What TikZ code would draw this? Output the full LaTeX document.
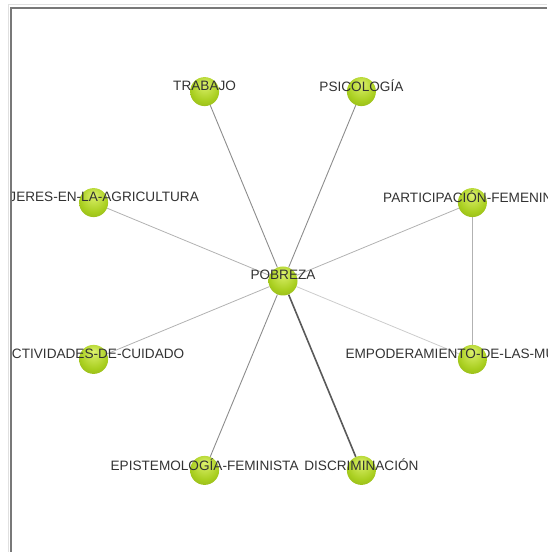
\documentclass[tikz,border=0pt]{standalone}
\usepackage{fontspec}
\setmainfont{Liberation Sans}
\usetikzlibrary{positioning,calc,backgrounds}

\definecolor{ballgreen}{RGB}{168,206,30}
\definecolor{ballgleam}{RGB}{222,242,112}
\definecolor{balledge}{RGB}{104,138,10}
\definecolor{labelgray}{RGB}{50,50,50}
\definecolor{framegray}{RGB}{120,120,120}
\pgfdeclareradialshading{greenball}{\pgfpoint{0bp}{14bp}}{%
  color(0bp)=(ballgleam); color(9bp)=(ballgleam!60!ballgreen);
  color(24bp)=(ballgreen); color(40bp)=(ballgreen!82!black);
  color(50bp)=(balledge)}

\begin{document}
\begin{tikzpicture}[x=1pt, y=1pt,
    ball/.style={circle, shading=greenball, draw=none, minimum size=29pt, inner sep=0pt},
    lbl/.style={text=labelgray, font=\fontsize{13.6}{14}\selectfont, inner sep=0pt},
    link/.style={draw=black!30, line width=0.8pt},
    darklink/.style={draw=black!45, line width=0.9pt}
]
\useasboundingbox (0,0) rectangle (547,552);

% frame of the canvas
\draw[black!12, line width=1pt] (8,0) -- (8,547) -- (547,547);
\draw[framegray, line width=2pt] (11,0) -- (11,544) -- (547,544);
\clip (12,0) rectangle (547,543);

% nodes
\node[ball] (pobreza) at (283,271) {};
\node[ball] (trabajo) at (204.6,460.4) {};
\node[ball] (psicologia) at (361.4,460.4) {};
\node[ball] (participacion) at (472.4,349.4) {};
\node[ball] (empoderamiento) at (472.4,192.6) {};
\node[ball] (discriminacion) at (361.4,81.6) {};
\node[ball] (epistemologia) at (204.6,81.6) {};
\node[ball] (actividades) at (93.6,192.6) {};
\node[ball] (agricultura) at (93.6,349.4) {};

% links
\begin{scope}[on background layer]
\draw[darklink] (pobreza) -- (trabajo);
\draw[darklink] (pobreza) -- (psicologia);
\draw[link] (pobreza) -- (participacion);
\draw[link, draw=black!20] (pobreza) -- (empoderamiento);
\draw[draw=black!65, line width=1.6pt] (pobreza) -- (discriminacion);
\draw[darklink] (pobreza) -- (epistemologia);
\draw[link] (pobreza) -- (actividades);
\draw[link] (pobreza) -- (agricultura);
\draw[link] (participacion) -- (empoderamiento);
\end{scope}

% labels
\node[lbl] (pobreza-l) at ([yshift=6pt]pobreza.center) {POBREZA};
\node[lbl] (trabajo-l) at ([yshift=6pt]trabajo.center) {TRABAJO};
\node[lbl] (psicologia-l) at ([yshift=6pt]psicologia.center) {PSICOLOGÍA};
\node[lbl] (participacion-l) at ([yshift=6pt]participacion.center) {PARTICIPACIÓN-FEMENINA};
\node[lbl] (empoderamiento-l) at ([yshift=6pt]empoderamiento.center) {EMPODERAMIENTO-DE-LAS-MUJERES};
\node[lbl] (discriminacion-l) at ([yshift=6pt]discriminacion.center) {DISCRIMINACIÓN};
\node[lbl] (epistemologia-l) at ([yshift=6pt]epistemologia.center) {EPISTEMOLOGÍA-FEMINISTA};
\node[lbl] (actividades-l) at ([yshift=6pt]actividades.center) {ACTIVIDADES-DE-CUIDADO};
\node[lbl] (agricultura-l) at ([yshift=6pt]agricultura.center) {MUJERES-EN-LA-AGRICULTURA};
\end{tikzpicture}
\end{document}
